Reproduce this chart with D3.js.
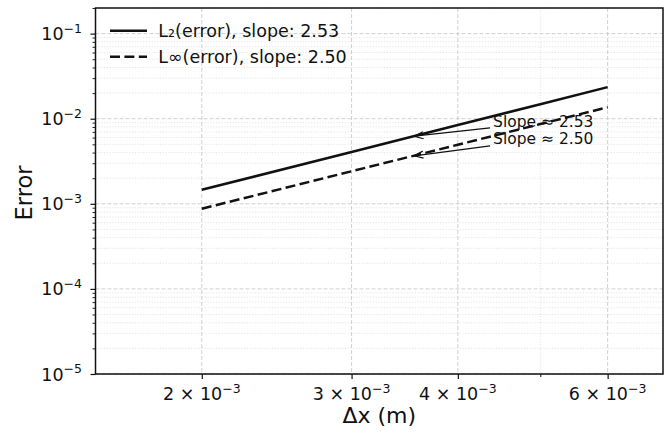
<!DOCTYPE html>
<html>
<head>
<meta charset="utf-8">
<script src="https://cdn.jsdelivr.net/npm/d3@7"></script>
<style>
  html, body { margin: 0; padding: 0; background: #fff; }
  svg { display: block; font-family: "DejaVu Sans", sans-serif; }
</style>
</head>
<body>
<svg id="chart" width="670" height="433"></svg>
<script>
// ---- data ----
const dx = [0.002, 0.003, 0.004, 0.005, 0.006];
const l2Error = [1.46e-3, 4.07e-3, 8.43e-3, 1.48e-2, 2.35e-2];
const linfError = [8.75e-4, 2.41e-3, 4.95e-3, 8.65e-3, 1.364e-2];
const seriesNames = ["L\u2082(error), slope: 2.53", "L\u221E(error), slope: 2.50"];
const xTickValues = [0.002, 0.003, 0.004, 0.006];
const xTickMantissa = ["2", "3", "4", "6"];
const xMinorTicks = [0.005];
const yTickExponents = [-5, -4, -3, -2, -1];
const annotationTexts = ["Slope \u2248 2.53", "Slope \u2248 2.50"];
const annotationTips = [[3.55e-3, 6.22e-3], [3.55e-3, 3.66e-3]];
const annotationTextAt = [[4.4e-3, 9.1e-3], [4.4e-3, 5.8e-3]];
const xDomain = [1.5e-3, 6.97e-3];
const yDomain = [1e-5, 0.2];

// ---- layout ----
const svg = d3.select("#chart");
const L = 95.5, R = 663, T = 8, B = 374;
const x = d3.scaleLog().domain(xDomain).range([L, R]);
const y = d3.scaleLog().domain(yDomain).range([B, T]);
const ink = "#111";

// minor y ticks
const yMinor = [];
yTickExponents.forEach(e => {
  for (let k = 2; k <= 9; k++) {
    const v = k * Math.pow(10, e);
    if (v <= yDomain[1] * 1.0001) yMinor.push(v);
  }
});
const yMajor = yTickExponents.map(e => Math.pow(10, e));

// ---- grid ----
const grid = svg.append("g");
grid.selectAll(".ymin").data(yMinor).join("line")
  .attr("x1", L).attr("x2", R).attr("y1", d => y(d)).attr("y2", d => y(d))
  .attr("stroke", "#d8d8d8").attr("stroke-width", 0.7).attr("stroke-dasharray", "1.2,1.6");
grid.selectAll(".xmin").data(xMinorTicks).join("line")
  .attr("y1", T).attr("y2", B).attr("x1", d => x(d)).attr("x2", d => x(d))
  .attr("stroke", "#d8d8d8").attr("stroke-width", 0.7).attr("stroke-dasharray", "1.2,1.6");
grid.selectAll(".ymaj").data(yMajor).join("line")
  .attr("x1", L).attr("x2", R).attr("y1", d => y(d)).attr("y2", d => y(d))
  .attr("stroke", "#c4c4c4").attr("stroke-width", 0.8).attr("stroke-dasharray", "4,2");
grid.selectAll(".xmaj").data(xTickValues).join("line")
  .attr("y1", T).attr("y2", B).attr("x1", d => x(d)).attr("x2", d => x(d))
  .attr("stroke", "#c4c4c4").attr("stroke-width", 0.8).attr("stroke-dasharray", "4,2");

// ---- data lines ----
const line = d3.line().x(d => x(d[0])).y(d => y(d[1]));
svg.append("path").datum(dx.map((v, i) => [v, l2Error[i]]))
  .attr("d", line).attr("fill", "none").attr("stroke", ink).attr("stroke-width", 2.5);
svg.append("path").datum(dx.map((v, i) => [v, linfError[i]]))
  .attr("d", line).attr("fill", "none").attr("stroke", ink).attr("stroke-width", 2.5)
  .attr("stroke-dasharray", "10,4.4");

// ---- axes ----
const xAxis = d3.axisBottom(x).tickValues(xTickValues).tickSize(5).tickFormat("");
const gx = svg.append("g").attr("transform", `translate(0,${B})`).call(xAxis);
gx.select(".domain").remove();
gx.selectAll("line").attr("stroke", ink).attr("stroke-width", 1.2);
const xAxisMinor = d3.axisBottom(x).tickValues(xMinorTicks).tickSize(3).tickFormat("");
const gxm = svg.append("g").attr("transform", `translate(0,${B})`).call(xAxisMinor);
gxm.select(".domain").remove();
gxm.selectAll("line").attr("stroke", ink).attr("stroke-width", 1);

const yAxis = d3.axisLeft(y).tickValues(yMajor).tickSize(5).tickFormat("");
const gy = svg.append("g").attr("transform", `translate(${L},0)`).call(yAxis);
gy.select(".domain").remove();
gy.selectAll("line").attr("stroke", ink).attr("stroke-width", 1.2);
const yAxisMinor = d3.axisLeft(y).tickValues(yMinor).tickSize(3).tickFormat("");
const gym = svg.append("g").attr("transform", `translate(${L},0)`).call(yAxisMinor);
gym.select(".domain").remove();
gym.selectAll("line").attr("stroke", ink).attr("stroke-width", 0.9);

// tick labels
const xl = svg.append("g").attr("font-size", 17.5).attr("fill", ink);
xTickValues.forEach((v, i) => {
  const t = xl.append("text").attr("x", x(v)).attr("y", B + 26).attr("text-anchor", "middle");
  t.append("tspan").text(xTickMantissa[i] + " \u00D7 10");
  t.append("tspan").attr("font-size", 12.5).attr("dy", -7.5).text("\u22123");
});
const yl = svg.append("g").attr("font-size", 17.5).attr("fill", ink);
yTickExponents.forEach(e => {
  const t = yl.append("text").attr("x", 82).attr("y", y(Math.pow(10, e)) + 6.5).attr("text-anchor", "end");
  t.append("tspan").text("10");
  t.append("tspan").attr("font-size", 12.5).attr("dy", -7.5).text("\u2212" + Math.abs(e));
});

// frame
svg.append("rect").attr("x", L).attr("y", T).attr("width", R - L).attr("height", B - T)
  .attr("fill", "none").attr("stroke", ink).attr("stroke-width", 1.5);

// axis labels
svg.append("text").attr("x", (L + R) / 2).attr("y", 423).attr("text-anchor", "middle")
  .attr("font-size", 22).attr("fill", ink).text("\u0394x (m)");
svg.append("text").attr("transform", `translate(31.5,${(T + B) / 2 + 2}) rotate(-90)`)
  .attr("text-anchor", "middle").attr("font-size", 22.5).attr("fill", ink).text("Error");

// ---- legend ----
const lg = svg.append("g");
seriesNames.forEach((name, i) => {
  const cy = 30.7 + i * 26;
  lg.append("line").attr("x1", 110).attr("x2", 147).attr("y1", cy).attr("y2", cy)
    .attr("stroke", ink).attr("stroke-width", 2.5)
    .attr("stroke-dasharray", i === 1 ? "10,4.4" : null);
  lg.append("text").attr("x", 158.3).attr("y", cy + 6).attr("font-size", 17.5).attr("fill", ink).text(name);
});

// ---- annotations ----
const ag = svg.append("g");
annotationTexts.forEach((txt, i) => {
  const tx = x(annotationTextAt[i][0]), ty = y(annotationTextAt[i][1]);
  const t = ag.append("text").attr("x", tx).attr("y", ty).attr("dominant-baseline", "central")
    .attr("font-size", 15.5).attr("fill", ink).text(txt);
  const bb = t.node().getBBox();
  const cx = bb.x + bb.width / 2, cy = bb.y + bb.height / 2;
  const px = x(annotationTips[i][0]), py = y(annotationTips[i][1]);
  const s = (bb.x - cx) / (px - cx);
  let sx = cx + s * (px - cx), sy = cy + s * (py - cy);
  const len = Math.hypot(px - sx, py - sy);
  const ux = (px - sx) / len, uy = (py - sy) / len;
  sx += ux * 3; sy += uy * 3;
  const ex = px - ux * 0.5, ey = py - uy * 0.5;
  ag.append("line").attr("x1", sx).attr("y1", sy).attr("x2", ex).attr("y2", ey)
    .attr("stroke", ink).attr("stroke-width", 1.2);
  const hl = 9, hw = 3.5;
  const bx = ex - ux * hl, by = ey - uy * hl;
  ag.append("path")
    .attr("d", `M${bx - uy * hw},${by + ux * hw}L${ex},${ey}L${bx + uy * hw},${by - ux * hw}`)
    .attr("fill", "none").attr("stroke", ink).attr("stroke-width", 1.2);
});
</script>
</body>
</html>
